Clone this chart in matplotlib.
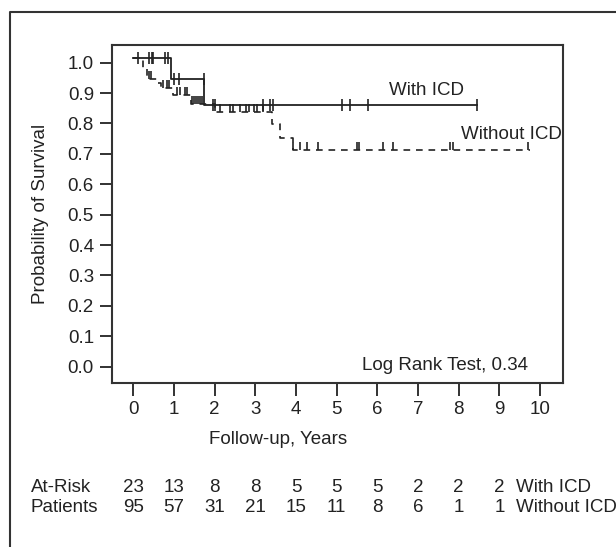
import numpy as np
import matplotlib
matplotlib.use("Agg")
import matplotlib.pyplot as plt
import matplotlib.font_manager as fm
from matplotlib.lines import Line2D
from matplotlib.transforms import blended_transform_factory

# Schrift: schmal wie im Original, falls vorhanden
names = {f.name for f in fm.fontManager.ttflist}
narrow = 'Liberation Sans Narrow' in names
plt.rcParams['font.family'] = 'Liberation Sans Narrow' if narrow else 'Liberation Sans'
fs = 15.5 if narrow else 13.5

# Kaplan-Meier Stufen (Zeit in Jahren, Überleben)
icd_t = [0.0, 0.93, 1.75, 8.44]
icd_s = [1.014, 0.947, 0.860, 0.860]
icd_cens = [0.11, 0.39, 0.45, 0.49, 0.78, 0.86, 1.0, 1.13, 1.74,
            1.97, 2.01, 3.2, 3.36, 3.44, 5.12, 5.33, 5.78, 8.44]

noicd_t = [0.0, 0.246, 0.325, 0.575, 0.669, 0.984, 1.411, 1.997,
           3.403, 3.607, 3.919, 9.75]
noicd_s = [1.014, 0.982, 0.946, 0.933, 0.918, 0.892, 0.864, 0.839,
           0.797, 0.751, 0.711, 0.711]
noicd_cens = [0.39, 0.43, 0.74, 0.82, 0.885, 1.07, 1.15, 1.27, 1.33,
              1.44, 1.49, 1.54, 1.59, 1.64, 1.68, 2.13, 2.37, 2.44, 2.62,
              2.77, 2.85, 2.97, 3.03, 3.2, 3.93, 4.1, 4.27, 4.55, 5.49,
              5.56, 6.15, 6.39, 7.79, 7.87, 9.71]

# Patienten unter Risiko
risk_years = list(range(10))
risk_icd = [23, 13, 8, 8, 5, 5, 5, 2, 2, 2]
risk_noicd = [95, 57, 31, 21, 15, 11, 8, 6, 1, 1]

xticks = list(range(11))
yticks = [round(0.1 * i, 1) for i in range(11)]

ink = '#222222'


def surv_at(times, t_steps, s_steps):
    idx = np.searchsorted(t_steps, times, side='right') - 1
    return np.array(s_steps)[idx]


fig = plt.figure(figsize=(6.16, 5.47), dpi=100)
ax = fig.add_axes([112 / 616, 1 - 383 / 547, 451 / 616, 338 / 547])

ax.step(icd_t, icd_s, where='post', color=ink, lw=1.3)
ax.plot(icd_cens, surv_at(icd_cens, icd_t, icd_s), ls='none', marker='|',
        ms=8, mew=1.2, color=ink)

ax.step(noicd_t, noicd_s, where='post', color=ink, lw=1.2,
        linestyle=(0, (4, 3.5)))
ax.plot(noicd_cens, surv_at(noicd_cens, noicd_t, noicd_s), ls='none',
        marker=2, ms=6, mew=1.2, color=ink)

ax.set_xlim(-0.524, 10.566)
ax.set_ylim(-0.054, 1.058)
ax.set_xticks(xticks)
ax.set_yticks(yticks)
ax.set_yticklabels([f'{v:.1f}' for v in yticks])
ax.tick_params(direction='out', length=9, width=1.3, colors=ink,
               labelsize=fs, pad=4)
for sp in ax.spines.values():
    sp.set_linewidth(1.5)
    sp.set_color('#333333')

ax.set_ylabel('Probability of Survival', fontsize=fs, color=ink)
ax.yaxis.set_label_coords((49 - 112) / 451, 0.5)

ax.text(7.21, 0.909, 'With ICD', fontsize=fs, color=ink, ha='center', va='center')
ax.text(10.55, 0.762, 'Without ICD', fontsize=fs, color=ink, ha='right', va='center')
ax.text(9.70, 0.005, 'Log Rank Test, 0.34', fontsize=fs, color=ink,
        ha='right', va='center')

fig.text(278 / 616, 1 - 440 / 547, 'Follow-up, Years', fontsize=fs, color=ink,
         ha='center', va='center')

# Tabelle unter der Achse
tr = blended_transform_factory(ax.transData, fig.transFigure)
y1 = 1 - 487 / 547
y2 = 1 - 507 / 547
for yr, a, b in zip(risk_years, risk_icd, risk_noicd):
    ax.text(yr, y1, str(a), transform=tr, fontsize=fs, color=ink,
            ha='center', va='center', clip_on=False)
    ax.text(yr, y2, str(b), transform=tr, fontsize=fs, color=ink,
            ha='center', va='center', clip_on=False)
fig.text(31 / 616, y1, 'At-Risk', fontsize=fs, color=ink, ha='left', va='center')
fig.text(31 / 616, y2, 'Patients', fontsize=fs, color=ink, ha='left', va='center')
fig.text(516 / 616, y1, 'With ICD', fontsize=fs, color=ink, ha='left', va='center')
fig.text(516 / 616, y2, 'Without ICD', fontsize=fs, color=ink, ha='left', va='center')

# äußerer Rahmen (nur links und oben sichtbar)
fig.add_artist(Line2D([10 / 616, 10 / 616, 1.0], [0.0, 1 - 12 / 547, 1 - 12 / 547],
                      transform=fig.transFigure, color='#333333', lw=1.5))

fig.savefig('out.png', dpi=100)
